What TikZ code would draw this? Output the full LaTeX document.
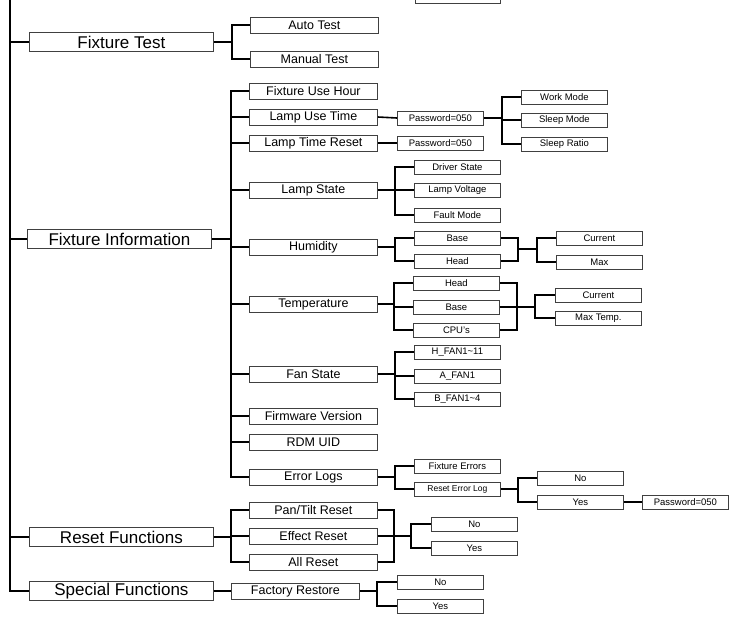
\documentclass[tikz,border=0pt]{standalone}
\usepackage{fontspec}
\setmainfont{Liberation Sans}
\usetikzlibrary{calc}
\begin{document}
\begin{tikzpicture}[
  x=1pt, y=-1pt,
  box/.style={draw=black!75, line width=0.8pt, inner sep=0pt, anchor=west},
  big/.style={box, minimum width=184, minimum height=19, font=\fontsize{17}{17}\selectfont},
  mid/.style={box, minimum width=128, minimum height=16, font=\fontsize{12.5}{13}\selectfont},
  sml/.style={box, minimum width=86, minimum height=14, font=\fontsize{9.5}{10}\selectfont},
  wire/.style={line width=1.6pt}
]
\useasboundingbox (0,0) rectangle (737,622);
\begin{scope}
\clip (0,0) rectangle (737,622);
\node[box, minimum width=85, minimum height=14] (cut) at (415,-4) {};
\end{scope}
\coordinate (root) at (10,0);

% level one
\node[big] (ft) at (29,42) {Fixture Test};
\node[big] (fi) at (27,239) {Fixture Information};
\node[big] (rf) at (29,537) {Reset Functions};
\node[big] (sf) at (29,591) {Special Functions};
\draw[wire, line width=2.4pt] (root) |- (sf.west);
\foreach \n in {ft,fi,rf} \draw[wire] (\n.west) -- (\n.west -| root);

% fixture test
\node[mid] (auto) at (250,25) {Auto Test};
\node[mid] (man) at (250,59) {Manual Test};
\coordinate (b1) at (232,42);
\draw[wire] (ft.east) -- (b1);
\foreach \n in {auto,man} \draw[wire] (b1) |- (\n.west);

% fixture information
\node[mid] (fuh) at (249,91) {Fixture Use Hour};
\node[mid] (lut) at (249,117) {Lamp Use Time};
\node[mid] (ltr) at (249,143) {Lamp Time Reset};
\node[mid] (ls) at (249,190) {Lamp State};
\node[mid] (hum) at (249,247) {Humidity};
\node[mid] (tmp) at (249,304) {Temperature};
\node[mid] (fan) at (249,374) {Fan State};
\node[mid] (fw) at (249,416) {Firmware Version};
\node[mid] (rdm) at (249,442) {RDM UID};
\node[mid] (el) at (249,477) {Error Logs};
\coordinate (b2) at (231,239);
\draw[wire] (fi.east) -- (b2);
\foreach \n in {fuh,lut,ltr,ls,hum,tmp,fan,fw,rdm,el} \draw[wire] (b2) |- (\n.west);

% lamp use time
\node[sml] (pw1) at (397,118) {Password=050};
\node[sml] (pw2) at (397,143) {Password=050};
\draw[wire] (lut.east) -- (pw1.west);
\draw[wire] (ltr.east) -- (pw2.west);
\node[sml] (wm) at (521,97) {Work Mode};
\node[sml] (sm) at (521,120) {Sleep Mode};
\node[sml] (sr) at (521,144) {Sleep Ratio};
\coordinate (b3) at (502,118);
\draw[wire] (pw1.east) -- (b3);
\foreach \n in {wm,sm,sr} \draw[wire] (b3) |- (\n.west);

% lamp state
\node[sml] (ds) at (414,167) {Driver State};
\node[sml] (lv) at (414,190) {Lamp Voltage};
\node[sml] (fm) at (414,215) {Fault Mode};
\coordinate (b4) at (395,190);
\draw[wire] (ls.east) -- (b4);
\foreach \n in {ds,lv,fm} \draw[wire] (b4) |- (\n.west);

% humidity
\node[sml] (hb) at (414,238) {Base};
\node[sml] (hh) at (414,261) {Head};
\coordinate (b5) at (395,247);
\draw[wire] (hum.east) -- (b5);
\foreach \n in {hb,hh} \draw[wire] (b5) |- (\n.west);
\coordinate (j5) at (518,249);
\coordinate (k5) at (537,249);
\draw[wire] (hb.east) -| (j5) |- (hh.east);
\draw[wire] (j5) -- (k5);
\node[sml] (hc) at (556,238) {Current};
\node[sml] (hm) at (556,262) {Max};
\foreach \n in {hc,hm} \draw[wire] (k5) |- (\n.west);

% temperature
\node[sml] (th) at (413,283) {Head};
\node[sml] (tb) at (413,307) {Base};
\node[sml] (tc) at (413,330) {CPU's};
\coordinate (b6) at (394,304);
\draw[wire] (tmp.east) -- (b6);
\foreach \n in {th,tb,tc} \draw[wire] (b6) |- (\n.west);
\coordinate (j6) at (517,307);
\coordinate (k6) at (535,307);
\draw[wire] (th.east) -| (j6) |- (tc.east);
\draw[wire] (tb.east) -- (k6);
\node[sml] (tcu) at (555,295) {Current};
\node[sml] (tmx) at (555,318) {Max Temp.};
\foreach \n in {tcu,tmx} \draw[wire] (k6) |- (\n.west);

% fan state
\node[sml] (hf) at (414,352) {H\_FAN1\textasciitilde11};
\node[sml] (af) at (414,376) {A\_FAN1};
\node[sml] (bf) at (414,399) {B\_FAN1\textasciitilde4};
\coordinate (b7) at (395,374);
\draw[wire] (fan.east) -- (b7);
\foreach \n in {hf,af,bf} \draw[wire] (b7) |- (\n.west);

% error logs
\node[sml] (fe) at (414,466) {Fixture Errors};
\node[sml, font=\fontsize{8.5}{9}\selectfont] (rel) at (414,489) {Reset Error Log};
\coordinate (b8) at (395,477);
\draw[wire] (el.east) -- (b8);
\foreach \n in {fe,rel} \draw[wire] (b8) |- (\n.west);
\node[sml] (eno) at (537,478) {No};
\node[sml] (eyes) at (537,502) {Yes};
\coordinate (b9) at (518,489);
\draw[wire] (rel.east) -- (b9);
\foreach \n in {eno,eyes} \draw[wire] (b9) |- (\n.west);
\node[sml] (pw3) at (642,502) {Password=050};
\draw[wire] (eyes.east) -- (pw3.west);

% reset functions
\node[mid] (ptr) at (249,510) {Pan/Tilt Reset};
\node[mid] (efr) at (249,536) {Effect Reset};
\node[mid] (alr) at (249,562) {All Reset};
\coordinate (b10) at (231,537);
\draw[wire] (rf.east) -- (b10);
\foreach \n in {ptr,efr,alr} \draw[wire] (b10) |- (\n.west);
\coordinate (j10) at (394,536);
\coordinate (k10) at (411,536);
\draw[wire] (ptr.east) -| (j10) |- (alr.east);
\draw[wire] (efr.east) -- (k10);
\node[sml] (rno) at (431,524) {No};
\node[sml] (ryes) at (431,548) {Yes};
\foreach \n in {rno,ryes} \draw[wire] (k10) |- (\n.west);

% special functions
\node[mid] (fr) at (231,591) {Factory Restore};
\draw[wire] (sf.east) -- (fr.west);
\node[sml] (sno) at (397,582) {No};
\node[sml] (syes) at (397,606) {Yes};
\coordinate (b11) at (377,591);
\draw[wire] (fr.east) -- (b11);
\foreach \n in {sno,syes} \draw[wire] (b11) |- (\n.west);
\end{tikzpicture}
\end{document}
